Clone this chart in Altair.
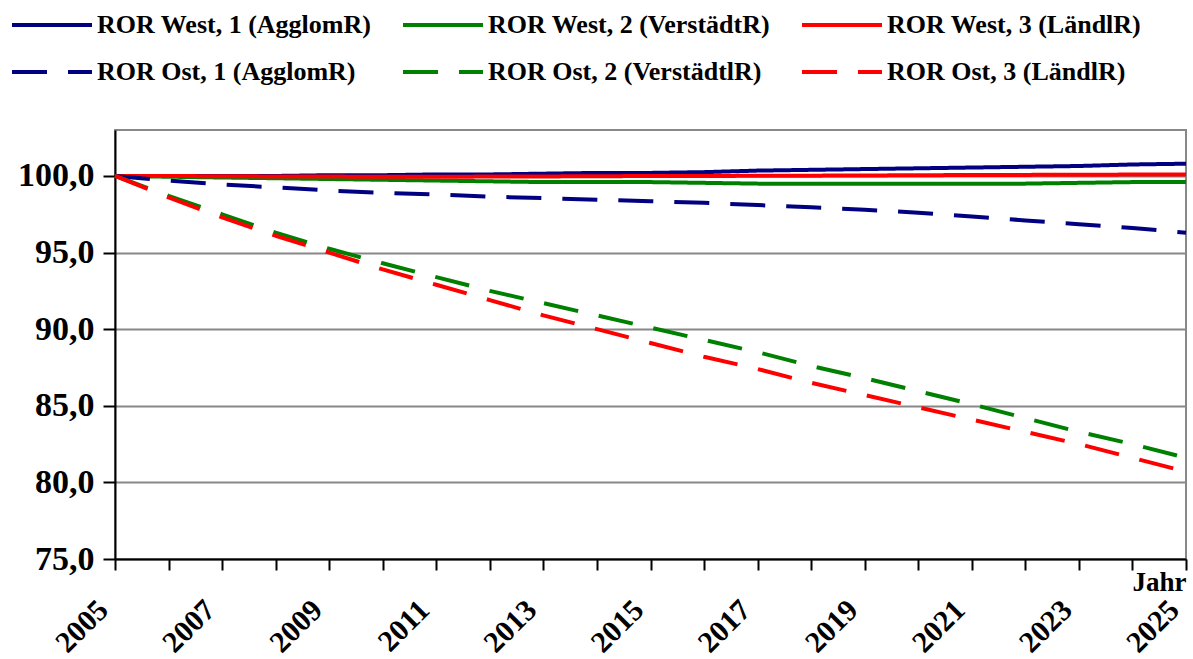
import altair as alt
import pandas as pd

years = list(range(2005, 2026))

series_names = [
    "ROR West, 1 (AgglomR)",
    "ROR West, 2 (VerstädtR)",
    "ROR West, 3 (LändlR)",
    "ROR Ost, 1 (AgglomR)",
    "ROR Ost, 2 (VerstädtlR)",
    "ROR Ost, 3 (LändlR)",
]

west_1 = [100.0, 100.0, 100.0, 100.0, 100.05, 100.05, 100.1, 100.1, 100.15, 100.2, 100.2,
          100.25, 100.35, 100.4, 100.45, 100.5, 100.55, 100.6, 100.65, 100.75, 100.8]
west_2 = [100.0, 99.95, 99.9, 99.85, 99.8, 99.75, 99.7, 99.65, 99.6, 99.6, 99.6,
          99.55, 99.5, 99.5, 99.5, 99.5, 99.5, 99.5, 99.55, 99.6, 99.6]
west_3 = [100.0, 100.0, 99.98, 99.97, 99.96, 99.95, 99.95, 99.96, 99.97, 99.98, 100.0,
          100.0, 100.01, 100.02, 100.03, 100.05, 100.06, 100.07, 100.08, 100.09, 100.1]
ost_1 = [100.0, 99.7, 99.45, 99.25, 99.05, 98.9, 98.8, 98.65, 98.55, 98.45, 98.35,
         98.25, 98.1, 97.95, 97.8, 97.6, 97.35, 97.1, 96.85, 96.6, 96.3]
ost_2 = [100.0, 98.7, 97.5, 96.3, 95.25, 94.3, 93.4, 92.5, 91.7, 90.9, 90.1,
         89.3, 88.5, 87.6, 86.8, 85.95, 85.1, 84.2, 83.3, 82.5, 81.6]
ost_3 = [100.0, 98.6, 97.3, 96.1, 95.0, 93.9, 92.9, 91.9, 90.9, 90.0, 89.1,
         88.2, 87.4, 86.5, 85.7, 84.9, 84.1, 83.3, 82.5, 81.6, 80.7]

colors = ["#000080", "#008000", "#FF0000", "#000080", "#008000", "#FF0000"]
dashes = [[1, 0], [1, 0], [1, 0], [35, 21], [35, 21], [35, 21]]

all_values = [west_1, west_2, west_3, ost_1, ost_2, ost_3]
rows = []
for name, vals in zip(series_names, all_values):
    for y, v in zip(years, vals):
        rows.append({"Jahr": y, "Wert": v, "Reihe": name})
df = pd.DataFrame(rows)

FONT = "Liberation Serif"


def make_legend():
    return alt.Legend(
        orient="none",
        legendX=-105,
        legendY=-118,
        columns=3,
        direction="horizontal",
        title=None,
        symbolType="stroke",
        symbolSize=6400,
        symbolStrokeWidth=4,
        clipHeight=26,
        labelFont=FONT,
        labelFontSize=26,
        labelFontWeight="bold",
        labelColor="black",
        labelLimit=500,
        labelOffset=3,
        columnPadding=29,
        rowPadding=21,
    )


line = alt.Chart(df).mark_line(strokeWidth=4, strokeCap="butt", strokeJoin="round").encode(
    x=alt.X(
        "Jahr:Q",
        scale=alt.Scale(domain=[2005, 2025], nice=False, zero=False),
        axis=alt.Axis(
            values=years,
            format="d",
            labelExpr="(datum.value - 2005) % 2 == 0 ? datum.label : ''",
            labelAngle=-45,
            labelAlign="right",
            labelBaseline="middle",
            labelFont=FONT,
            labelFontSize=30,
            labelFontWeight="bold",
            labelColor="black",
            labelPadding=35,
            labelOffset=-12,
            labelOverlap=False,
            labelBound=False,
            labelFlush=False,
            tickSize=11,
            tickWidth=2,
            tickColor="black",
            domainColor="black",
            domainWidth=2,
            grid=False,
            title="Jahr",
            titleFont=FONT,
            titleFontSize=27,
            titleFontWeight="bold",
            titleColor="black",
            titleAlign="right",
            titleBaseline="alphabetic",
            titleAnchor="end",
            titleX=1071,
            titleY=31,
        ),
    ),
    y=alt.Y(
        "Wert:Q",
        scale=alt.Scale(domain=[75, 103], nice=False, zero=False),
        axis=alt.Axis(
            values=[75, 80, 85, 90, 95, 100],
            labelExpr="replace(format(datum.value, '.1f'), '.', ',')",
            labelFont=FONT,
            labelFontSize=34,
            labelFontWeight="bold",
            labelColor="black",
            labelPadding=9,
            tickSize=12,
            tickWidth=2,
            tickColor="black",
            domainColor="black",
            domainWidth=2,
            grid=True,
            gridColor="#888888",
            gridWidth=2,
            title=None,
        ),
    ),
    color=alt.Color(
        "Reihe:N",
        scale=alt.Scale(domain=series_names, range=colors),
        legend=make_legend(),
    ),
    strokeDash=alt.StrokeDash(
        "Reihe:N",
        scale=alt.Scale(domain=series_names, range=dashes),
        legend=make_legend(),
    ),
    order=alt.Order("Jahr:Q"),
)

chart = line.properties(
    width=1071,
    height=429,
    autosize=alt.AutoSizeParams(type="none"),
    padding={"left": 115, "top": 130, "right": 7, "bottom": 100},
    background="white",
).configure_view(
    stroke="#888888",
    strokeWidth=2,
)

chart.save("out.html", embed_options={"renderer": "svg", "actions": False})
